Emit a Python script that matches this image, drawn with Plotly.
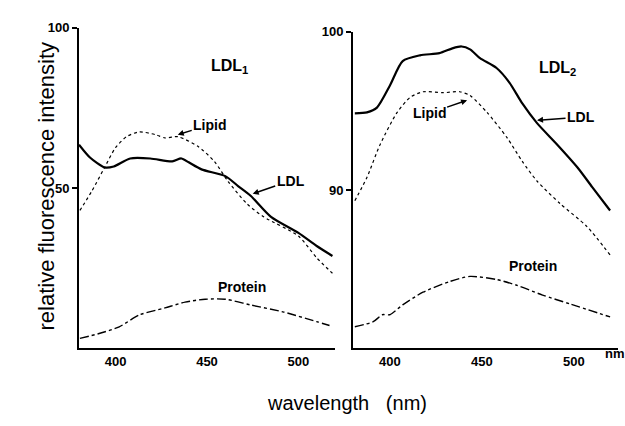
import plotly.graph_objects as go

# ---- data ----
ldl1_x = [380, 386, 394, 399, 408, 419, 431, 436, 440, 447, 460, 467, 474, 485, 500, 510, 518.6]
ldl1_y = [63.5, 59.5, 56.4, 56.7, 59.2, 59.2, 58.3, 59.2, 58.0, 55.8, 53.7, 50.6, 47.5, 41.0, 36.0, 31.9, 28.8]

lip1_x = [380.5, 387, 394, 400, 406, 413, 422, 427, 434, 445, 454, 461.6, 472, 481, 500, 510, 518.6]
lip1_y = [43.0, 49.0, 56.4, 62.6, 66.0, 67.5, 66.6, 65.6, 66.0, 63.0, 58.3, 52.0, 45.0, 41.0, 35.0, 28.2, 23.4]

pro1_x = [380.5, 391, 402, 413, 427, 438, 449, 460, 474, 492, 510, 517]
pro1_y = [3.1, 4.6, 6.7, 10.4, 12.6, 14.4, 15.3, 15.3, 13.5, 11.3, 8.3, 7.1]

ldl2_x = [381, 387.6, 393, 400, 407, 416.4, 427, 434, 439, 443.6, 449, 458, 465, 472, 480, 491, 502, 510, 519.7]
ldl2_y = [74.2, 74.5, 76.0, 82.9, 90.7, 92.5, 93.2, 94.7, 95.3, 94.4, 91.6, 88.5, 83.9, 77.3, 71.1, 64.3, 57.1, 50.9, 43.5]

lip2_x = [381, 387.6, 394.7, 404, 411, 418, 429, 438, 443.6, 452.8, 463.7, 472, 480, 492.5, 507, 519.7]
lip2_y = [46.6, 54.0, 64.3, 74.5, 79.2, 81.0, 80.7, 81.0, 79.8, 74.5, 66.5, 59.0, 52.8, 45.7, 38.5, 29.5]

pro2_x = [381, 391, 396, 400, 407, 418, 432.7, 443.6, 458, 469, 483, 498, 519.7]
pro2_y = [6.8, 8.4, 10.6, 10.6, 13.7, 17.7, 21.1, 22.7, 21.7, 19.9, 16.8, 14.0, 9.9]

x_ticks = [400, 450, 500]
x_tick_labels = ["400", "450", "500"]
y_ticks = [50, 100]
y_tick_labels_left = ["50", "100"]
y_tick_labels_right = ["90", "100"]

W, H = 625, 426
FONT = "Liberation Sans Narrow, Liberation Sans, Arial, sans-serif"
TITLE_FONT = "Liberation Sans, Arial, sans-serif"

fig = go.Figure()

series = [
    (ldl1_x, ldl1_y, "x", "y", dict(width=2.2)),
    (lip1_x, lip1_y, "x", "y", dict(width=1.2, dash="dot")),
    (pro1_x, pro1_y, "x", "y", dict(width=1.4, dash="dashdot")),
    (ldl2_x, ldl2_y, "x2", "y2", dict(width=2.2)),
    (lip2_x, lip2_y, "x2", "y2", dict(width=1.2, dash="dot")),
    (pro2_x, pro2_y, "x2", "y2", dict(width=1.4, dash="dashdot")),
]
for xs, ys, xa, ya, ls in series:
    fig.add_trace(go.Scatter(x=xs, y=ys, mode="lines", xaxis=xa, yaxis=ya, hoverinfo="skip",
                             line=dict(color="black", shape="spline", smoothing=0.7, **ls)))

tickfont = dict(family=FONT, size=13, color="black")
xcommon = dict(showgrid=False, zeroline=False, showline=True, linecolor="black", linewidth=2,
               tickvals=x_ticks, ticktext=["<b>%s</b>" % t for t in x_tick_labels],
               ticks="", tickfont=tickfont, fixedrange=True)
ycommon = dict(showgrid=False, zeroline=False, showline=True, linecolor="black", linewidth=2,
               tickvals=y_ticks, ticks="outside", ticklen=5, tickwidth=1.5, tickcolor="black",
               tickfont=tickfont, range=[0, 100], fixedrange=True)

ydom_l = [(H - 347) / H, (H - 21) / H]
ydom_r = [(H - 347) / H, (H - 25) / H]

fig.update_layout(
    width=W, height=H,
    margin=dict(l=0, r=0, t=0, b=0),
    paper_bgcolor="white", plot_bgcolor="white",
    showlegend=False,
    xaxis=dict(xcommon, domain=[79 / W, 335 / W], range=[380, 520], anchor="y"),
    yaxis=dict(ycommon, domain=ydom_l, anchor="x",
               ticktext=["<b>%s</b>" % t for t in y_tick_labels_left]),
    xaxis2=dict(xcommon, domain=[353 / W, 618 / W], range=[380, 524], anchor="y2"),
    yaxis2=dict(ycommon, domain=ydom_r, anchor="x2",
                ticktext=["<b>%s</b>" % t for t in y_tick_labels_right]),
)

lab = dict(family=TITLE_FONT, size=14, color="black")
big = dict(family=TITLE_FONT, size=16, color="black")
ann = []
# panel titles
ann.append(dict(x=462.5, y=88, xref="x", yref="y", text="<b>LDL<sub>1</sub></b>", showarrow=False, font=big))
ann.append(dict(x=491, y=88.5, xref="x2", yref="y2", text="<b>LDL<sub>2</sub></b>", showarrow=False, font=big))
# arrow labels
arrow = dict(showarrow=True, arrowhead=2, arrowsize=0.8, arrowwidth=1.5, arrowcolor="black", font=lab)
ann.append(dict(arrow, x=434, y=66.6, xref="x", yref="y", text="<b>Lipid</b>", ax=32, ay=-10))
ann.append(dict(arrow, x=475, y=48.2, xref="x", yref="y", text="<b>LDL</b>", ax=38, ay=-13))
ann.append(dict(arrow, x=442, y=78.3, xref="x2", yref="y2", text="<b>Lipid</b>", ax=-38, ay=13))
ann.append(dict(arrow, x=480, y=72, xref="x2", yref="y2", text="<b>LDL</b>", ax=44, ay=-3))
ann.append(dict(x=469, y=19, xref="x", yref="y", text="<b>Protein</b>", showarrow=False, font=lab))
ann.append(dict(x=477.8, y=26, xref="x2", yref="y2", text="<b>Protein</b>", showarrow=False, font=lab))
# unit label
ann.append(dict(x=603 / W, y=(H - 362) / H, xref="paper", yref="paper", xanchor="left",
                text="<b>nm</b>", showarrow=False, font=dict(family=FONT, size=13, color="black")))
# axis titles
ann.append(dict(x=32 / W, y=(H - 182) / H, xref="paper", yref="paper", textangle=-90,
                text="relative fluorescence intensity", showarrow=False,
                font=dict(family=TITLE_FONT, size=22, color="black")))
ann.append(dict(x=347 / W, y=(H - 416) / H, xref="paper", yref="paper",
                text="wavelength&nbsp;&nbsp;&nbsp;(nm)", showarrow=False,
                font=dict(family=TITLE_FONT, size=20, color="black")))
fig.update_layout(annotations=ann)

fig.write_html("out.html")
